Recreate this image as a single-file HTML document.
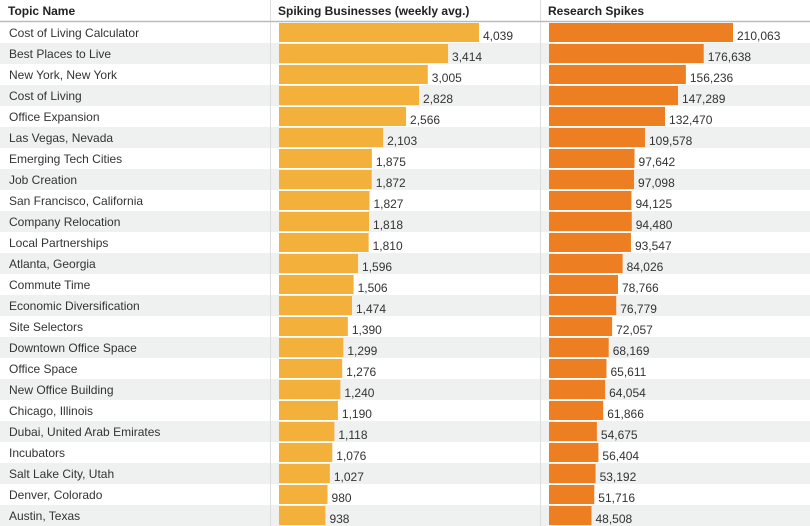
<!DOCTYPE html>
<html><head><meta charset="utf-8"><style>
body{margin:0;width:810px;height:526px;overflow:hidden;background:#fff;font-family:"Liberation Sans",sans-serif;}
</style></head><body>
<svg id="chart" width="810" height="526" style="display:block">
<g id="hdr">
<text x="8" y="15" font-size="12" font-weight="bold" fill="#222">Topic Name</text>
<text x="278" y="15" font-size="12" font-weight="bold" fill="#222">Spiking Businesses (weekly avg.)</text>
<text x="548" y="15" font-size="12" font-weight="bold" fill="#222">Research Spikes</text>
</g>
<g id="rows"></g>
<line x1="0" y1="21.5" x2="810" y2="21.5" stroke="#bbb" stroke-width="1.5"/>
</svg>
<script>
const topics=["Cost of Living Calculator","Best Places to Live","New York, New York","Cost of Living","Office Expansion","Las Vegas, Nevada","Emerging Tech Cities","Job Creation","San Francisco, California","Company Relocation","Local Partnerships","Atlanta, Georgia","Commute Time","Economic Diversification","Site Selectors","Downtown Office Space","Office Space","New Office Building","Chicago, Illinois","Dubai, United Arab Emirates","Incubators","Salt Lake City, Utah","Denver, Colorado","Austin, Texas"];
const businesses=[4039,3414,3005,2828,2566,2103,1875,1872,1827,1818,1810,1596,1506,1474,1390,1299,1276,1240,1190,1118,1076,1027,980,938];
const research=[210063,176638,156236,147289,132470,109578,97642,97098,94125,94480,93547,84026,78766,76779,72057,68169,65611,64054,61866,54675,56404,53192,51716,48508];
const NS="http://www.w3.org/2000/svg";
const g=document.getElementById('rows');
const xB=v=>v*(200/4039), xR=v=>v*(184/210063);
function mk(t,a){const e=document.createElementNS(NS,t);for(const k in a)e.setAttribute(k,a[k]);g.appendChild(e);return e;}
const fmt=v=>v.toLocaleString('en-US');
topics.forEach((t,i)=>{
  const y=22+21*i;
  if(i%2===1){const r=mk('rect',{x:0,y:y,width:810,height:21,fill:'#eff0f0'});
    
    }
  const l=mk('text',{x:9,y:y+15,'font-size':12,fill:'#333'});l.textContent=t;
  
  
  const wb=xB(businesses[i]);
  const b=mk('rect',{x:279,y:y+1,width:wb,height:19,fill:'#f3b13c'});
  
  
  const bt=mk('text',{x:279+wb+4,y:y+18,'font-size':12,fill:'#333'});bt.textContent=fmt(businesses[i]);
  
  
  const wr=xR(research[i]);
  const r2=mk('rect',{x:549,y:y+1,width:wr,height:19,fill:'#ed7f22'});
  
  
  const rt=mk('text',{x:549+wr+4,y:y+18,'font-size':12,fill:'#333'});rt.textContent=fmt(research[i]);
  
  
});
[270,540].forEach(x=>{const l=mk('line',{x1:x+0.5,y1:0,x2:x+0.5,y2:526,stroke:'#ddd'});
  
  });
</script>
</body></html>
